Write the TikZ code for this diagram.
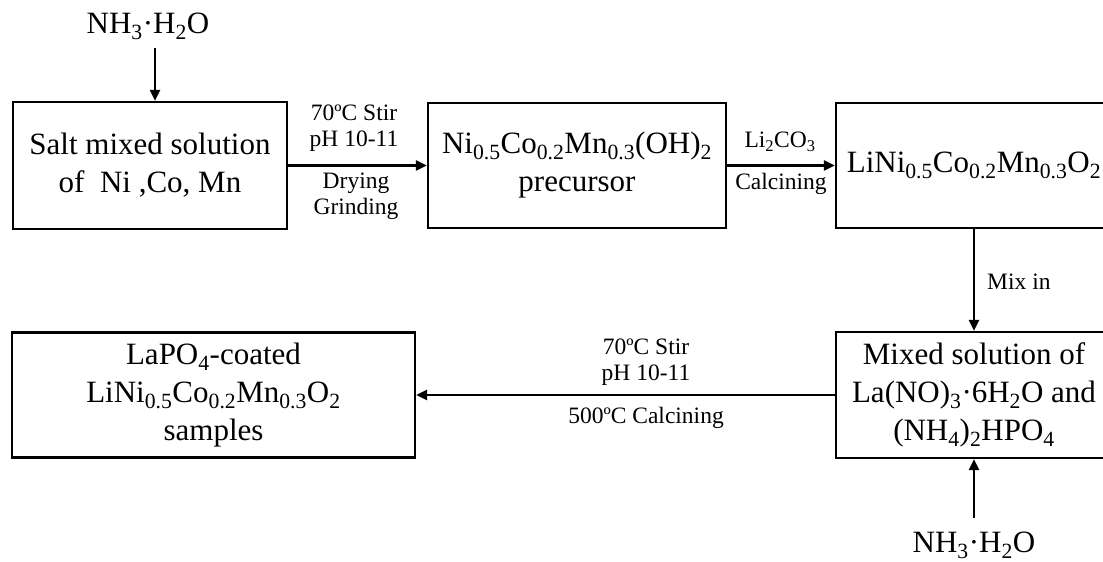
\documentclass[tikz,border=0pt]{standalone}
\usepackage{fontspec}
\setmainfont{Liberation Serif}
\usetikzlibrary{arrows.meta}
\newcommand{\sbs}[1]{\textsubscript{#1}}
\begin{document}
\begin{tikzpicture}[x=1pt,y=-1pt,
  box/.style={draw, line width=2.2pt, inner sep=0pt, align=center, font=\fontsize{31}{38}\selectfont},
  lab/.style={font=\fontsize{23.5}{28}\selectfont, align=center, inner sep=0pt},
  big/.style={font=\fontsize{31}{38}\selectfont, inner sep=0pt},
  arr/.style={line width=2.2pt, -{Triangle[length=11pt,width=10pt]}}]
\clip (0,0) rectangle (1103,562);
% boxes
\node[box, minimum width=274pt, minimum height=127pt] (b1) at (150,165.5) {Salt mixed solution\\of~ Ni ,Co, Mn};
\node[box, minimum width=298pt, minimum height=125pt] (b2) at (577,165.5) {Ni\sbs{0.5}Co\sbs{0.2}Mn\sbs{0.3}(OH)\sbs{2}\\precursor};
\node[box, minimum width=276pt, minimum height=125pt] (b3) at (974,165.5) {LiNi\sbs{0.5}Co\sbs{0.2}Mn\sbs{0.3}O\sbs{2}};
\node[box, minimum width=403pt, minimum height=125pt] (b4) at (213.5,395) {LaPO\sbs{4}-coated\\LiNi\sbs{0.5}Co\sbs{0.2}Mn\sbs{0.3}O\sbs{2}\\samples};
\node[box, minimum width=276pt, minimum height=126pt] (b5) at (974,395) {Mixed solution of\\La(NO)\sbs{3}·6H\sbs{2}O and\\(NH\sbs{4})\sbs{2}HPO\sbs{4}};
% reagents
\node[big] (n1) at (148,26) {NH\sbs{3}·H\sbs{2}O};
\node[big] (n2) at (974,545) {NH\sbs{3}·H\sbs{2}O};
\coordinate (t1) at (155,48);
\coordinate (t2) at (974,518);
% connectors
\draw[arr] (t1) -- (t1 |- b1.north);
\draw[arr] (t2) -- (b5.south);
\draw[arr] (b1.east) -- (b2.west);
\draw[arr] (b2.east) -- (b3.west);
\draw[arr] (b3.south) -- (b5.north);
\draw[arr] (b5.west) -- (b4.east);
% labels
\node[lab] (l1) at (354,113) {70ºC Stir};
\node[lab] (l2) at (354,141) {pH 10-11};
\node[lab] (l3) at (356,183) {Drying};
\node[lab] (l4) at (356,209) {Grinding};
\node[lab] (l5) at (780,142) {Li\sbs{2}CO\sbs{3}};
\node[lab] (l6) at (781,184) {Calcining};
\node[lab, anchor=west] (l7) at (987,282) {Mix in};
\node[lab] (l8) at (646,347) {70ºC Stir};
\node[lab] (l9) at (646,375) {pH 10-11};
\node[lab] (l10) at (646,418) {500ºC Calcining};
\end{tikzpicture}
\end{document}
